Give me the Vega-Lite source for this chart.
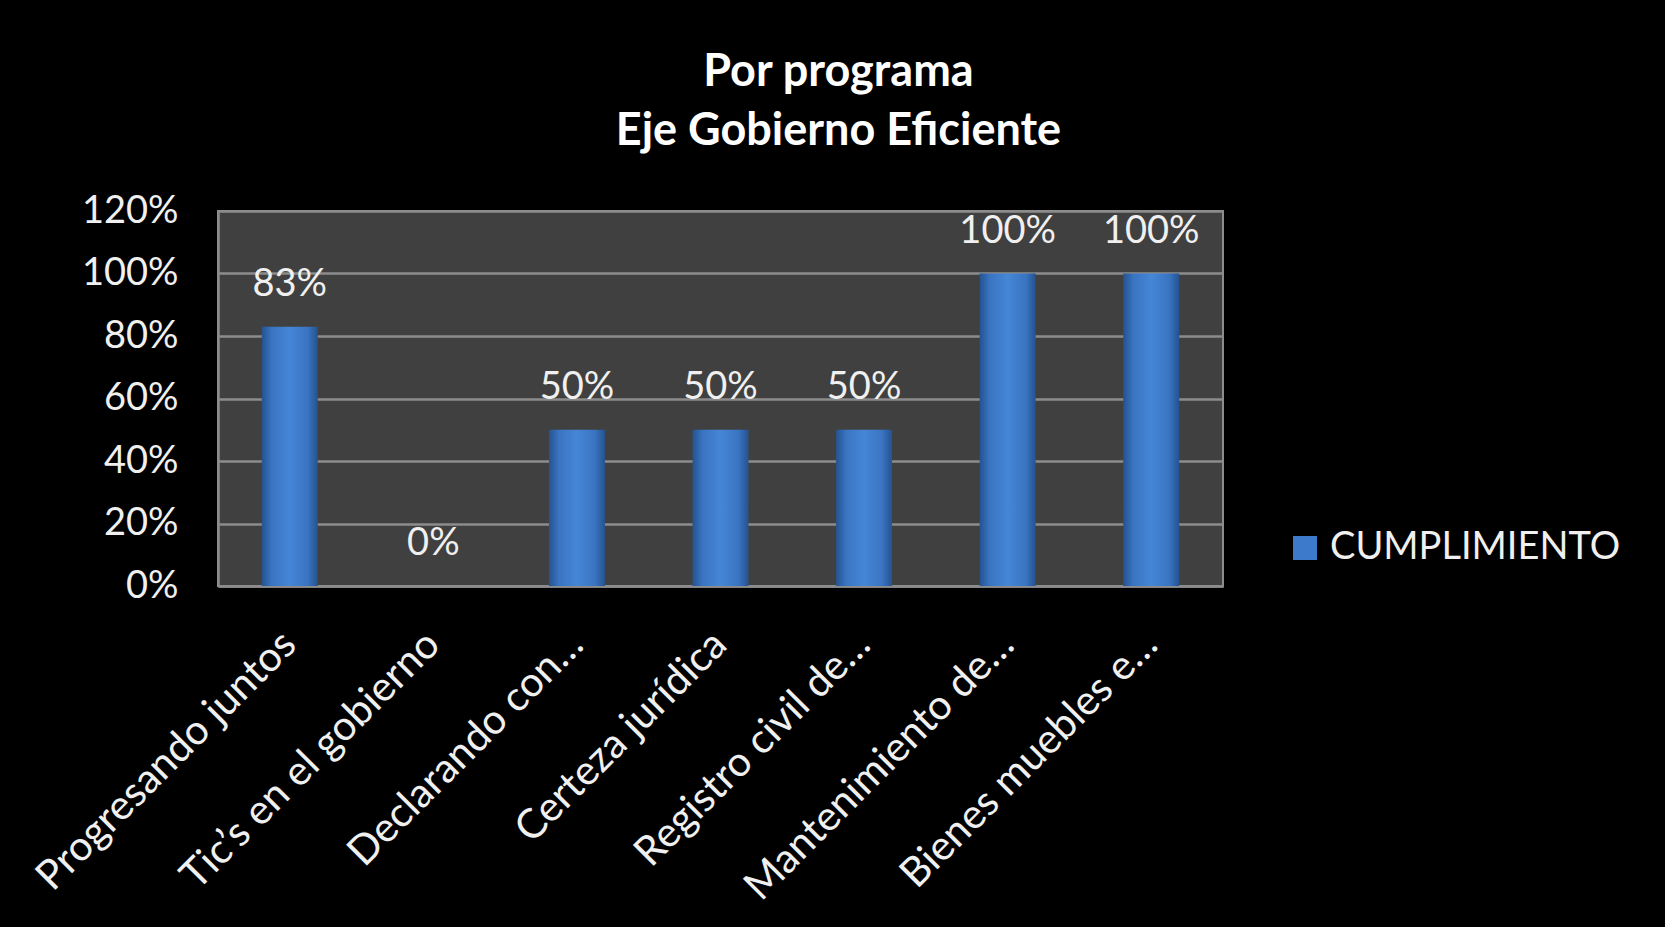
{
  "$schema": "https://vega.github.io/schema/vega-lite/v6.json",
  "width": 1005,
  "height": 375,
  "autosize": {"type": "none"},
  "padding": {"left": 218, "top": 211, "right": 442, "bottom": 341},
  "background": "#000000",
  "title": {
    "text": ["Por programa", "Eje Gobierno Eficiente"],
    "font": "Lato",
    "fontSize": 45,
    "fontWeight": "bold",
    "color": "#ffffff",
    "anchor": "middle",
    "dx": 118,
    "offset": 38,
    "lineHeight": 59
  },
  "config": {
    "view": {"fill": "#404040", "stroke": "#8c8c8c", "strokeWidth": 2},
    "axis": {"labelFont": "Lato", "labelFontSize": 38, "labelColor": "#f0f0f0"},
    "legend": {"labelFont": "Lato", "labelFontSize": 38, "labelColor": "#f0f0f0"}
  },
  "data": {
    "values": [
      {"programa": "Progresando juntos", "cumplimiento": 0.83, "serie": "CUMPLIMIENTO"},
      {"programa": "Tic’s en el gobierno", "cumplimiento": 0.0, "serie": "CUMPLIMIENTO"},
      {"programa": "Declarando con…", "cumplimiento": 0.5, "serie": "CUMPLIMIENTO"},
      {"programa": "Certeza jurídica", "cumplimiento": 0.5, "serie": "CUMPLIMIENTO"},
      {"programa": "Registro civil de…", "cumplimiento": 0.5, "serie": "CUMPLIMIENTO"},
      {"programa": "Mantenimiento de…", "cumplimiento": 1.0, "serie": "CUMPLIMIENTO"},
      {"programa": "Bienes muebles e…", "cumplimiento": 1.0, "serie": "CUMPLIMIENTO"}
    ]
  },
  "encoding": {
    "x": {
      "field": "programa",
      "type": "nominal",
      "sort": null,
      "scale": {"paddingInner": 0.61, "paddingOuter": 0.305},
      "axis": {
        "title": null,
        "labelAngle": -45,
        "labelAlign": "right",
        "labelBaseline": "middle",
        "labelPadding": 52,
        "labelFontSize": 41,
        "ticks": false,
        "domain": true,
        "domainColor": "#8c8c8c",
        "domainWidth": 2.5,
        "labelLimit": 0
      }
    },
    "y": {
      "field": "cumplimiento",
      "type": "quantitative",
      "scale": {"domain": [0, 1.2], "nice": false},
      "axis": {
        "title": null,
        "values": [0, 0.2, 0.4, 0.6, 0.8, 1.0, 1.2],
        "format": ".0%",
        "ticks": false,
        "labelPadding": 40,
        "grid": true,
        "gridColor": "#8c8c8c",
        "gridWidth": 2.5,
        "domain": true,
        "domainColor": "#8c8c8c",
        "domainWidth": 2.5
      }
    }
  },
  "layer": [
    {
      "mark": {"type": "bar", "opacity": 0},
      "encoding": {
        "color": {
          "field": "serie",
          "type": "nominal",
          "scale": {"range": ["#3d7acb"]},
          "legend": {
            "title": null,
            "orient": "none",
            "legendX": 1068,
            "legendY": 318,
            "symbolType": "square",
            "symbolSize": 576,
            "symbolOpacity": 1,
            "symbolStrokeWidth": 0,
            "labelOffset": 6,
            "labelLimit": 0,
            "padding": 0
          }
        }
      }
    },
    {
      "mark": {"type": "bar", "color": {"gradient": "linear", "x1": 0, "y1": 0, "x2": 1, "y2": 0, "stops": [
        {"offset": 0, "color": "#24538f"},
        {"offset": 0.18, "color": "#3a74c2"},
        {"offset": 0.5, "color": "#4586d6"},
        {"offset": 0.82, "color": "#3a74c2"},
        {"offset": 1, "color": "#24538f"}
      ]}}
    },
    {
      "mark": {"type": "text", "baseline": "middle", "dy": -42, "font": "Lato", "fontSize": 38, "color": "#f0f0f0"},
      "encoding": {
        "text": {"field": "cumplimiento", "type": "quantitative", "format": ".0%"}
      }
    }
  ]
}
